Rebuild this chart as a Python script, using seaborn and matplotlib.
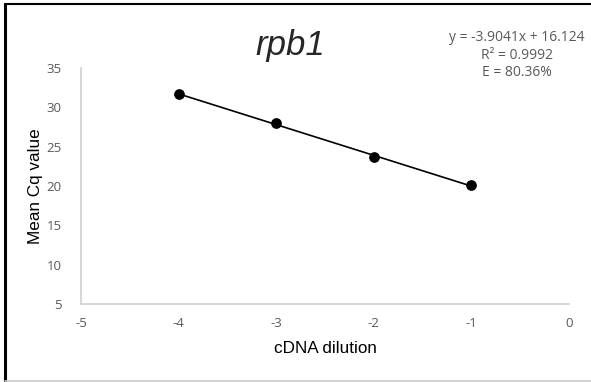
import matplotlib
matplotlib.use('Agg')
import matplotlib.pyplot as plt
import seaborn as sns
import pandas as pd
from matplotlib.lines import Line2D

# standard curve data (log dilution vs mean Cq)
dilution = [-4, -3, -2, -1]
mean_cq = [31.7, 27.95, 23.65, 20.1]
x_ticks = [-5, -4, -3, -2, -1, 0]
y_ticks = [5, 10, 15, 20, 25, 30, 35]
eq_lines = ['y = -3.9041x + 16.124', 'R² = 0.9992', 'E = 80.36%']

df = pd.DataFrame({'dilution': dilution, 'cq': mean_cq})

sns.set_style('white')
plt.rcParams['font.family'] = ['Liberation Sans', 'DejaVu Sans']

fig = plt.figure(figsize=(5.91, 3.82), dpi=100)
ax = fig.add_axes([0.137, 0.204, 0.826, 0.618])

sns.regplot(x='dilution', y='cq', data=df, ax=ax, ci=None,
            scatter_kws={'color': 'black', 's': 45, 'alpha': 1, 'zorder': 3},
            line_kws={'color': 'black', 'lw': 1.2})

ax.set_xlim(-5, 0)
ax.set_ylim(5, 35)
ax.set_xticks(x_ticks)
ax.set_yticks(y_ticks)
tick_font = {'family': ['Open Sans', 'DejaVu Sans'], 'size': 9.5, 'color': '#595959'}
ax.set_xticklabels([str(t) for t in x_ticks], fontdict=tick_font)
ax.set_yticklabels([str(t) for t in y_ticks], fontdict=tick_font)
ax.tick_params(length=0, pad=9)
ax.tick_params(axis='y', pad=14)

for side in ['top', 'right']:
    ax.spines[side].set_visible(False)
for side in ['left', 'bottom']:
    ax.spines[side].set_color('#d0d0d0')
    ax.spines[side].set_linewidth(1.2)

ax.set_xlabel('cDNA dilution', fontsize=12.3, color='black', labelpad=8)
ax.set_ylabel('Mean Cq value', fontsize=12.3, color='black', labelpad=2)

fig.text(0.492, 0.88, 'rpb1', fontsize=25, style='italic', ha='center', va='center')

for i, line in enumerate(eq_lines):
    fig.text(0.875, 0.903 - i * 0.047, line, fontsize=10, color='#595959',
             ha='center', va='center', family=['Open Sans', 'DejaVu Sans'])

# frame around the picture
fig.add_artist(Line2D([0.008, 0.008], [0.0, 0.99], color='black', lw=2.2, transform=fig.transFigure))
fig.add_artist(Line2D([0.008, 1.0], [0.99, 0.99], color='black', lw=1.5, transform=fig.transFigure))
fig.add_artist(Line2D([0.008, 1.0], [0.003, 0.003], color='#cccccc', lw=1.2, transform=fig.transFigure))

fig.savefig('out.png', dpi=100, facecolor='white')
